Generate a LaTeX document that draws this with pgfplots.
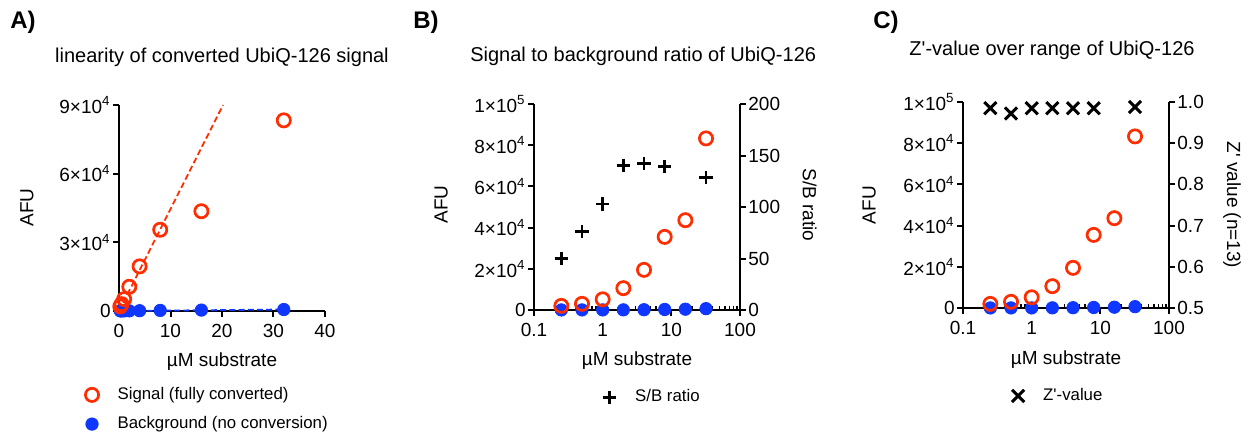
\documentclass[border=0pt]{standalone}
\usepackage{fontspec}
\setmainfont{Liberation Sans}
\usepackage{pgfplots}
\pgfplotsset{compat=1.18}

\definecolor{sigred}{RGB}{255,45,0}
\definecolor{bgblue}{RGB}{15,55,255}

% x: uM substrate, sig: signal (fully converted), bg: background (no conversion)
\pgfplotstableread{
x     sig    bg
0.25  2000   40
0.5   3000   39
1     5200   50
2     10600  76
4     19500  137
8     35500  255
16    43600  400
32    83300  648
}\signaltab

% S/B ratio and Z'-value (no value at 16 uM)
\pgfplotstableread{
x     sb     z
0.25  50.4   0.985
0.5   76.4   0.972
1     103    0.985
2     140.5  0.985
4     142.4  0.985
8     139.2  0.985
32    128.5  0.988
}\ratiotab

\pgfplotsset{
  prism/.style={
    scale only axis, width=103pt, height=103pt, anchor=south west,
    axis line style={line width=1pt, -},
    tick align=outside, major tick length=3pt, minor tick length=2pt,
    every tick/.style={line width=1pt, black},
    every minor tick/.style={line width=0.8pt, black},
    ticklabel style={font=\fontsize{9.5}{10}\selectfont},
    yticklabel style={inner sep=1pt},
    label style={font=\fontsize{9.5}{11}\selectfont},
    title style={font=\fontsize{10}{12}\selectfont, anchor=center},
    /pgf/number format/assume math mode=true,
    scaled ticks=false,
    clip=false,
    legend style={draw=none, fill=none, inner sep=0pt, anchor=west,
      font=\fontsize{8.4}{9}\selectfont, cells={anchor=west}, row sep=3pt,
      /tikz/every odd column/.append style={column sep=7.5pt}},
    legend image code/.code={\draw[##1] plot coordinates {(0pt,0pt)};},
  },
  left axis/.style={prism, axis x line*=bottom, axis y line*=left},
  right axis/.style={prism, axis y line*=right, hide x axis},
  sig/.style={only marks, mark=o, mark size=3.3pt, line width=1.35pt, color=sigred},
  bg/.style={only marks, mark=*, mark size=3.1pt, color=bgblue},
}

\begin{document}
\begin{tikzpicture}
\useasboundingbox (0,0) rectangle (628pt,-218pt);

% ---------------- A ----------------
\node[font=\bfseries\fontsize{12}{13}\selectfont] at (11.5pt,-11pt) {A)};
\begin{axis}[left axis, at={(59.5pt,-155.5pt)},
  xmin=0, xmax=40, ymin=0, ymax=90000,
  xtick={0,10,20,30,40},
  ytick={0,30000,60000,90000},
  yticklabels={0,3×10\textsuperscript{4},6×10\textsuperscript{4},9×10\textsuperscript{4}},
  xlabel={µM substrate}, ylabel={AFU},
  xlabel style={at={(axis description cs:0.5,-0.246)}, anchor=center},
  ylabel style={at={(axis description cs:-0.447,0.502)}, anchor=center},
  title={linearity of converted UbiQ-126 signal},
  title style={at={(axis description cs:0.5,1.174)}},
  legend style={at={(axis description cs:-0.165,-0.478)}},
  reverse legend,
]
\addplot[sigred, line width=0.9pt, dash pattern=on 3pt off 1.6pt, forget plot]
  coordinates {(0,0) (20.2,90000)};
\addplot[bgblue, line width=0.9pt, dash pattern=on 3pt off 1.6pt, forget plot]
  coordinates {(0,0) (32,650)};
\addplot[bg] table[x=x, y=bg] {\signaltab};
\addlegendentry{Background (no conversion)}
\addplot[sig] table[x=x, y=sig] {\signaltab};
\addlegendentry{Signal (fully converted)}
\end{axis}

% ---------------- B ----------------
\node[font=\bfseries\fontsize{12}{13}\selectfont] at (213pt,-11pt) {B)};
\begin{axis}[left axis, at={(267pt,-155pt)},
  xmode=log, xmin=0.1, xmax=100, ymin=0, ymax=100000,
  xtick={0.1,1,10,100}, xticklabels={0.1,1,10,100},
  minor xtick={0.2,0.3,0.4,0.5,0.6,0.7,0.8,0.9,2,3,4,5,6,7,8,9,20,30,40,50,60,70,80,90},
  minor x tick style={yshift=2pt},
  ytick={0,20000,40000,60000,80000,100000},
  yticklabels={0,2×10\textsuperscript{4},4×10\textsuperscript{4},6×10\textsuperscript{4},8×10\textsuperscript{4},1×10\textsuperscript{5}},
  xlabel={µM substrate}, ylabel={AFU},
  xlabel style={at={(axis description cs:0.5,-0.244)}, anchor=center},
  ylabel style={at={(axis description cs:-0.451,0.512)}, anchor=center},
  title={Signal to background ratio of UbiQ-126},
  title style={at={(axis description cs:0.53,1.171)}},
]
\addplot[bg] table[x=x, y=bg] {\signaltab};
\addplot[sig] table[x=x, y=sig] {\signaltab};
\end{axis}
\begin{axis}[right axis, at={(267pt,-155pt)},
  xmode=log, xmin=0.1, xmax=100, ymin=0, ymax=200,
  ytick={0,50,100,150,200},
  ylabel={S/B ratio},
  ylabel style={at={(axis description cs:1.338,0.51)}, anchor=center, rotate=180},
  legend style={at={(axis description cs:0.333,-0.424)}},
]
\addplot[only marks, mark=+, mark size=3.3pt, line width=1.4pt, black]
  table[x=x, y=sb] {\ratiotab};
\addlegendentry{S/B ratio}
\end{axis}

% ---------------- C ----------------
\node[font=\bfseries\fontsize{12}{13}\selectfont] at (443pt,-11pt) {C)};
\begin{axis}[left axis, at={(481.5pt,-154pt)},
  xmode=log, xmin=0.1, xmax=100, ymin=0, ymax=100000,
  xtick={0.1,1,10,100}, xticklabels={0.1,1,10,100},
  minor xtick={0.2,0.3,0.4,0.5,0.6,0.7,0.8,0.9,2,3,4,5,6,7,8,9,20,30,40,50,60,70,80,90},
  minor x tick style={yshift=2pt},
  ytick={0,20000,40000,60000,80000,100000},
  yticklabels={0,2×10\textsuperscript{4},4×10\textsuperscript{4},6×10\textsuperscript{4},8×10\textsuperscript{4},1×10\textsuperscript{5}},
  xlabel={µM substrate}, ylabel={AFU},
  xlabel style={at={(axis description cs:0.5,-0.248)}, anchor=center},
  ylabel style={at={(axis description cs:-0.456,0.5)}, anchor=center},
  title={Z\textquotesingle-value over range of UbiQ-126},
  title style={at={(axis description cs:0.432,1.194)}},
]
\addplot[bg] table[x=x, y=bg] {\signaltab};
\addplot[sig] table[x=x, y=sig] {\signaltab};
\end{axis}
\begin{axis}[right axis, at={(481.5pt,-154pt)},
  xmode=log, xmin=0.1, xmax=100, ymin=0.5, ymax=1,
  ytick={0.5,0.6,0.7,0.8,0.9,1.0},
  yticklabel style={/pgf/number format/.cd, fixed, fixed zerofill, precision=1},
  ylabel={Z\textquotesingle{} value (n=13)},
  ylabel style={at={(axis description cs:1.306,0.5)}, anchor=center, rotate=180},
  legend style={at={(axis description cs:0.236,-0.427)}},
]
\addplot[only marks, mark=x, mark size=4.3pt, line width=1.5pt, black]
  table[x=x, y=z] {\ratiotab};
\addlegendentry{Z\textquotesingle-value}
\end{axis}
\end{tikzpicture}
\end{document}
